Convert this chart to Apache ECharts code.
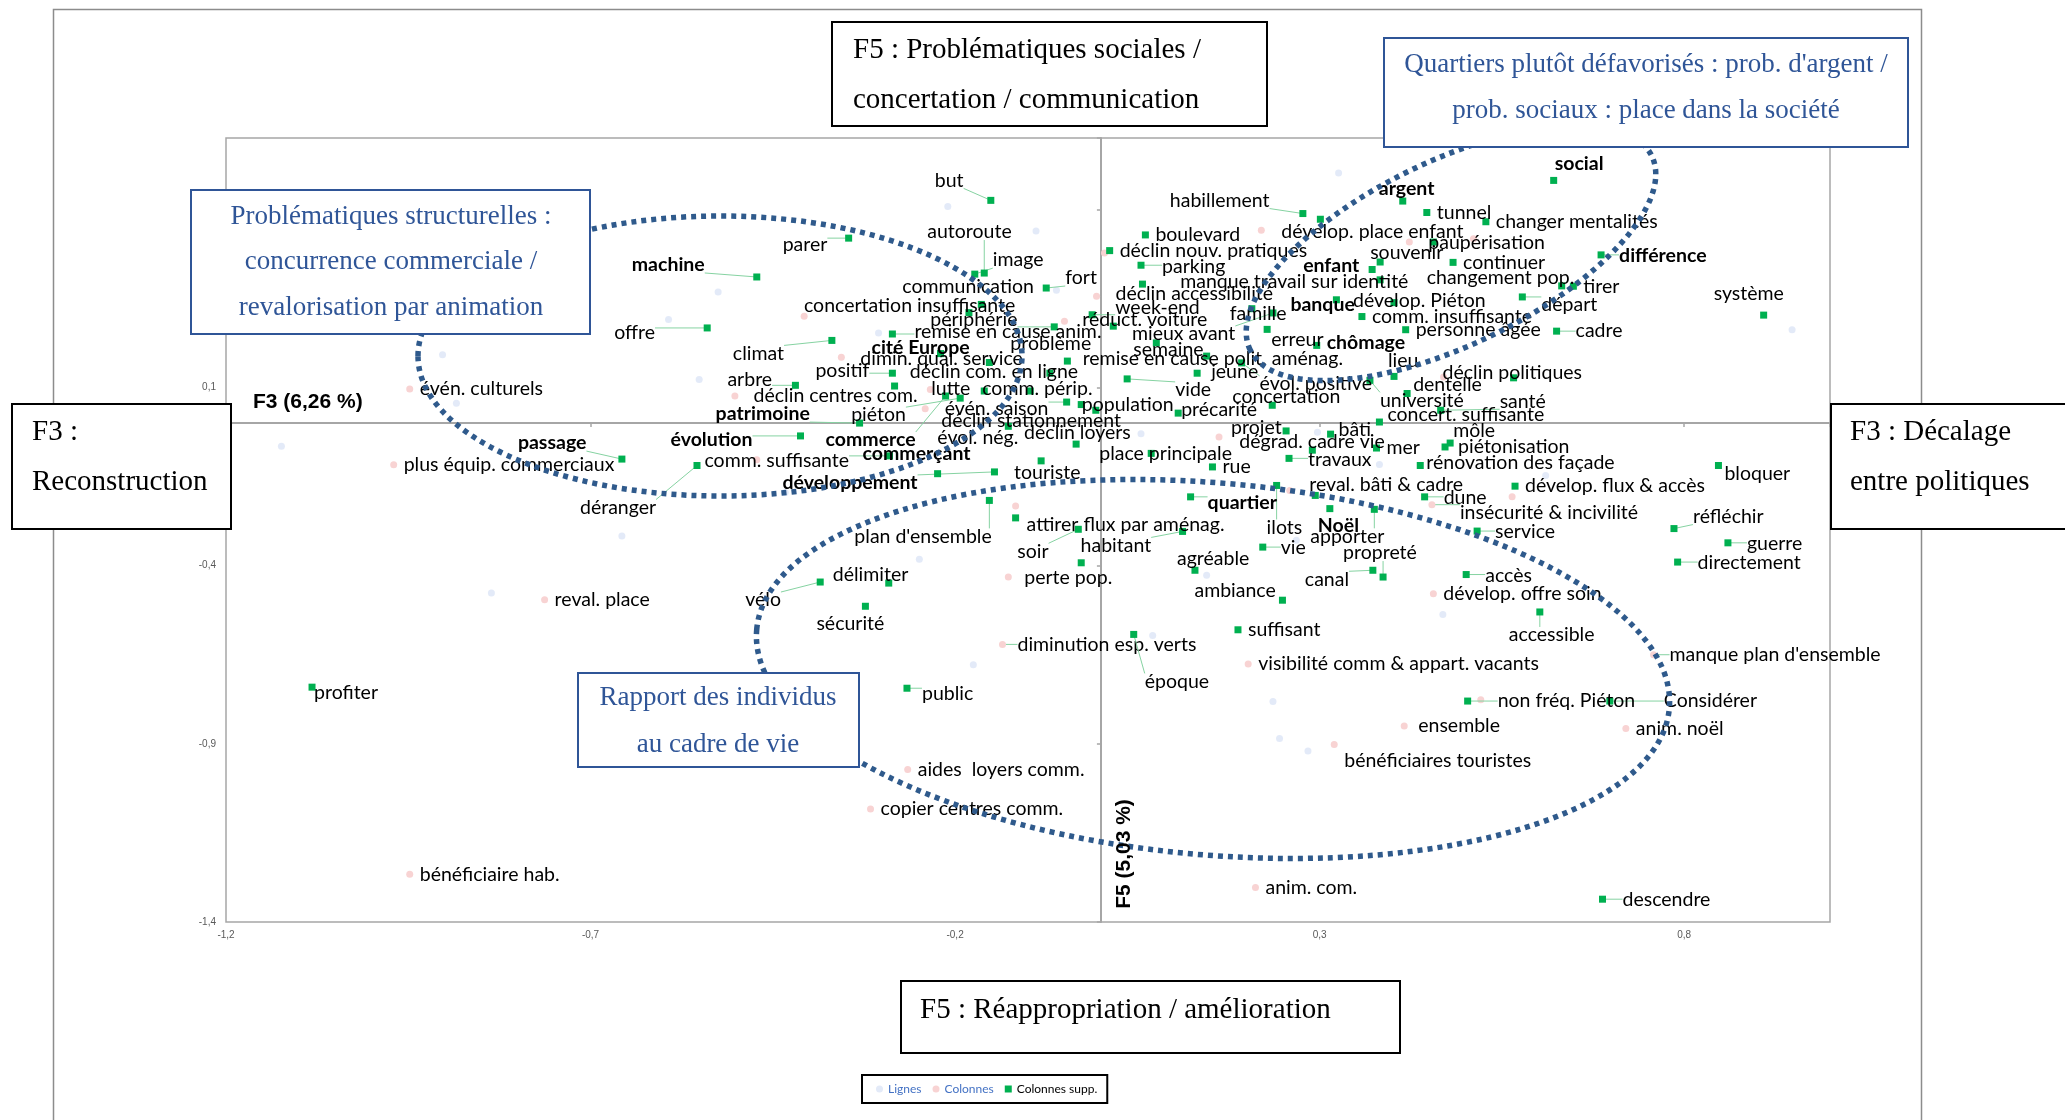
<!DOCTYPE html>
<html>
<head>
  <meta charset="UTF-8">
  <title>AFC - plan F3 / F5</title>
  <script src="https://cdn.jsdelivr.net/npm/echarts@6/dist/echarts.min.js"></script>
  <style>html, body { margin: 0; background: #fff; }</style>
</head>
<body>
  <div id="plan" style="width:2065px; height:1120px;"></div>
  <script>
    // coordonnées F3 (x) / F5 (y)
    var lignesPoints = [
      [-0.525, 0.368], [-0.593, 0.291], [-0.903, 0.192], [-0.884, 0.056], [-1.124, -0.065],
      [-0.551, 0.122], [-0.836, -0.477], [-0.657, -0.317], [-0.433, -0.195], [-0.249, -0.382],
      [0.284, -0.920], [-0.210, 0.608], [-0.089, 0.539], [-0.305, 0.253], [-0.061, 0.373],
      [0.326, 0.702], [0.948, 0.262], [0.055, -0.030], [0.297, -0.026], [0.382, -0.116],
      [0.145, -0.427], [0.268, -0.329], [0.071, -0.596], [0.610, -0.147], [0.469, -0.537],
      [-0.175, -0.678], [0.236, -0.781], [0.245, -0.885]
    ];

    var colonnesTerms = [
      [-0.948, 0.096, 'évén. culturels'],
      [-0.970, -0.117, 'plus équip. commerciaux'],
      [-0.763, -0.496, 'reval. place'],
      [-0.948, -1.266, 'bénéficiaire hab.'],
      [-0.135, -0.621, 'diminution esp. verts'],
      [-0.316, -1.083, 'copier centres comm.'],
      [-0.265, -0.972, 'aides  loyers comm.'],
      [0.202, -0.676, 'visibilité comm & appart. vacants'],
      [0.320, -0.902, 'bénéficiaires touristes'],
      [0.212, -1.303, 'anim. com.'],
      [0.720, -0.857, 'anim. noël'],
      [0.456, -0.479, 'dévelop. offre soin'],
      [0.454, -0.229, 'insécurité & incivilité'],
      [0.758, -0.650, "manque plan d'ensemble"],
      [0.416, -0.850, 'ensemble'],
      [0.521, -0.776, ''], [-0.127, -0.432, ''], [-0.502, 0.076, ''], [-0.472, -0.103, ''],
      [0.564, -0.207, ''], [-0.407, 0.300, ''], [-0.356, 0.185, ''], [-0.050, 0.286, ''],
      [-0.234, 0.094, ''], [0.220, 0.541, ''], [0.005, 0.477, ''], [-0.006, 0.356, ''],
      [0.423, 0.508, ''], [0.511, 0.517, ''], [0.470, 0.129, ''], [0.162, -0.039, ''],
      [0.259, -0.189, ''], [-0.117, -0.233, ''], [-0.241, 0.040, '']
    ];

    var suppTerms = [
      [-0.151, 0.625, 'but'], [-0.346, 0.519, 'parer'], [-0.472, 0.410, 'machine'],
      [-0.540, 0.267, 'offre'], [-0.160, 0.421, 'autoroute'], [-0.173, 0.418, 'image'],
      [-0.164, 0.333, 'communication'], [-0.075, 0.379, 'fort'],
      [-0.181, 0.310, 'concertation insuffisante'], [-0.064, 0.270, 'périphérie'],
      [-0.286, 0.250, 'remise en cause anim.'], [-0.220, 0.195, 'cité Europe'],
      [-0.369, 0.232, 'climat'], [-0.153, 0.170, 'dimin. qual. service'],
      [-0.046, 0.174, 'problème'], [-0.286, 0.140, 'positif'],
      [-0.070, 0.140, 'déclin com. en ligne'], [-0.419, 0.106, 'arbre'],
      [-0.283, 0.104, 'déclin centres com.'], [-0.160, 0.090, 'lutte'],
      [-0.097, 0.090, 'comm. périp.'], [-0.331, 0.000, 'patrimoine'],
      [-0.193, 0.070, 'piéton'], [-0.047, 0.059, 'évén. saison'],
      [-0.027, 0.052, 'déclin stationnement'], [-0.127, -0.009, 'évol. nég.'],
      [-0.034, -0.059, 'déclin loyers'], [-0.412, -0.036, 'évolution'],
      [-0.213, 0.076, 'commerce'], [-0.290, -0.092, 'comm. suffisante'],
      [-0.554, -0.119, 'déranger'], [-0.224, -0.142, 'commerçant'],
      [-0.146, -0.137, 'développement'], [-0.082, -0.106, 'touriste'],
      [-0.657, -0.101, 'passage'], [-0.153, -0.217, "plan d'ensemble"],
      [-0.117, -0.266, 'attirer flux par aménag.'], [-0.031, -0.298, 'soir'],
      [0.112, -0.304, 'habitant'], [-0.291, -0.449, 'délimiter'],
      [-0.385, -0.446, 'vélo'], [-0.323, -0.514, 'sécurité'],
      [-0.027, -0.392, 'perte pop.'], [-0.266, -0.744, 'public'],
      [-1.082, -0.741, 'profiter'], [0.045, -0.593, 'époque'],
      [0.277, 0.588, 'habillement'], [0.301, 0.572, 'dévelop. place enfant'],
      [0.414, 0.623, 'argent'], [0.621, 0.681, 'social'], [0.447, 0.591, 'tunnel'],
      [0.528, 0.565, 'changer mentalités'], [0.456, 0.508, 'paupérisation'],
      [0.383, 0.452, 'souvenir'], [0.372, 0.431, 'enfant'], [0.483, 0.451, 'continuer'],
      [0.686, 0.472, 'différence'], [0.632, 0.385, 'changement pop.'],
      [0.648, 0.384, 'tirer'], [0.909, 0.303, 'système'],
      [0.402, 0.338, 'dévelop. Piéton'], [0.578, 0.354, 'départ'],
      [0.358, 0.299, 'comm. insuffisante'], [0.418, 0.262, 'personne âgée'],
      [0.625, 0.258, 'cadre'], [0.296, 0.218, 'chômage'], [0.323, 0.346, 'banque'],
      [0.383, 0.402, 'manque travail sur identité'], [0.061, 0.528, 'boulevard'],
      [0.012, 0.484, 'déclin nouv. pratiques'], [0.055, 0.443, 'parking'],
      [0.057, 0.390, 'déclin accessibilité'], [-0.012, 0.304, 'week-end'],
      [0.017, 0.272, 'réduct. voiture'], [0.207, 0.321, 'famille'],
      [0.236, 0.309, 'mieux avant'], [0.228, 0.263, 'erreur'], [0.076, 0.225, 'semaine'],
      [0.145, 0.188, 'remise en cause polit. aménag.'], [0.402, 0.131, 'lieu'],
      [0.132, 0.140, 'jeune'], [0.193, 0.169, 'évol. positive'], [0.036, 0.124, 'vide'],
      [0.235, 0.050, 'concertation'], [0.566, 0.127, 'déclin politiques'],
      [0.420, 0.083, 'dentelle'], [0.369, 0.120, 'université'], [0.466, 0.036, 'santé'],
      [0.382, 0.003, 'concert. suffisante'], [0.315, -0.031, 'bâti'],
      [0.479, -0.056, 'môle'], [0.472, -0.067, 'piétonisation'],
      [0.438, -0.119, 'rénovation des façade'], [0.378, -0.070, 'mer'],
      [0.254, -0.022, 'projet'], [0.290, -0.076, 'dégrad. cadre vie'],
      [0.258, -0.099, 'travaux'], [-0.007, 0.036, 'population'],
      [0.106, 0.028, 'précarité'], [0.069, -0.085, 'place principale'],
      [0.153, -0.123, 'rue'], [0.294, -0.203, 'reval. bâti & cadre'],
      [0.123, -0.207, 'quartier'], [0.314, -0.240, 'Noël'], [0.241, -0.175, 'ilots'],
      [0.375, -0.242, 'apporter'], [0.222, -0.348, 'vie'], [0.387, -0.432, 'propreté'],
      [0.373, -0.413, 'canal'], [0.129, -0.413, 'agréable'], [0.249, -0.497, 'ambiance'],
      [0.188, -0.580, 'suffisant'], [0.444, -0.207, 'dune'], [0.516, -0.303, 'service'],
      [0.568, -0.177, 'dévelop. flux & accès'], [0.847, -0.119, 'bloquer'],
      [0.786, -0.296, 'réfléchir'], [0.860, -0.336, 'guerre'],
      [0.791, -0.390, 'directement'], [0.501, -0.425, 'accès'],
      [0.602, -0.530, 'accessible'], [0.503, -0.780, 'non fréq. Piéton'],
      [0.698, -0.780, 'Considérer'], [0.688, -1.336, 'descendre']
    ];

    var boldTerms = ['argent', 'social', 'différence', 'enfant', 'banque', 'chômage', 'cité Europe',
      'patrimoine', 'évolution', 'commerce', 'commerçant', 'développement', 'passage', 'machine',
      'quartier', 'Noël'];

    // décalage de chaque étiquette par rapport à son point (px), comme déplacé à la main
    var labelShift = {
      'but': [-56, -20], 'parer': [-66, 7], 'machine': [-125, -12], 'offre': [-93, 5],
      'autoroute': [-57, -41], 'image': [18, -14], 'communication': [-79, -18], 'fort': [19, -10],
      'concertation insuffisante': [-165, -7], 'périphérie': [-124, -7],
      'remise en cause anim.': [22, -2], 'cité Europe': [-69, -6], 'climat': [-99, 13],
      'dimin. qual. service': [-129, -4], 'problème': [-57, -17], 'positif': [-77, -2],
      'déclin com. en ligne': [-140, -1], 'arbre': [-68, -6], 'déclin centres com.': [-141, 10],
      'lutte': [-53, -2], 'comm. périp.': [-48, -2], 'patrimoine': [-144, -9], 'piéton': [-109, 17],
      'évén. saison': [-122, 7], 'déclin stationnement': [-140, 16], 'évol. nég.': [-71, 11],
      'déclin loyers': [-52, -11], 'évolution': [-130, 4], 'commerce': [-120, 44],
      'comm. suffisante': [-185, 5], 'déranger': [-117, 42], 'commerçant': [-75, -20],
      'développement': [-212, 11], 'touriste': [-27, 12], 'passage': [-104, -16],
      "plan d'ensemble": [-135, 36], 'attirer flux par aménag.': [11, 7], 'soir': [-61, 22],
      'habitant': [-102, 14], 'délimiter': [-56, -8], 'vélo': [-75, 18], 'sécurité': [-49, 17],
      'perte pop.': [-57, 15], 'public': [15, 5], 'profiter': [2, 6], 'époque': [11, 47],
      'habillement': [-133, -13], 'dévelop. place enfant': [-39, 12], 'argent': [-24, -12],
      'social': [1, -17], 'paupérisation': [-5, 1], 'souvenir': [-10, -9], 'enfant': [-69, -4],
      'différence': [18, 1], 'changement pop.': [-135, -8], 'système': [-50, -21],
      'dévelop. Piéton': [-41, -2], 'départ': [19, 8], 'cadre': [19, 0], 'chômage': [10, -3],
      'banque': [-46, 5], 'manque travail sur identité': [-200, 2], 'parking': [21, 1],
      'déclin accessibilité': [-27, 10], 'week-end': [23, -7], 'réduct. voiture': [-31, -6],
      'famille': [-22, 5], 'mieux avant': [-141, 21], 'erreur': [4, 10], 'semaine': [-23, 7],
      'remise en cause polit. aménag.': [-124, 3], 'lieu': [-6, -16], 'jeune': [14, -1],
      'évol. positive': [18, 21], 'vide': [48, 11], 'concertation': [-40, -9],
      'déclin politiques': [-71, -5], 'dentelle': [6, -9], 'université': [10, 20],
      'santé': [59, -9], 'concert. suffisante': [8, -7], 'bâti': [8, -4], 'môle': [3, -12],
      'piétonisation': [13, 0], 'rénovation des façade': [6, -3], 'projet': [-55, -3],
      'dégrad. cadre vie': [-73, -8], 'travaux': [19, 1], 'population': [-14, -6],
      'précarité': [3, -3], 'place principale': [-52, 0], 'reval. bâti & cadre': [-6, -11],
      'quartier': [17, 6], 'Noël': [-12, 17], 'ilots': [-10, 42], 'apporter': [-64, 27],
      'vie': [18, 1], 'propreté': [-40, -24], 'canal': [-68, 9], 'agréable': [-18, -12],
      'ambiance': [-88, -9], 'dune': [19, 1], 'service': [18, 1], 'bloquer': [6, 8],
      'réfléchir': [19, -12], 'guerre': [19, 1], 'directement': [20, 1], 'accès': [19, 1],
      'accessible': [-31, 23], 'non fréq. Piéton': [30, 0], 'Considérer': [54, 0],
      'descendre': [20, 1], 'bénéficiaires touristes': [10, 16], 'insécurité & incivilité': [28, 8],
      'diminution esp. verts': [15, 0], 'ensemble': [14, 0], "manque plan d'ensemble": [16, 0]
    };

    var GREEN = '#00b050', PINK = '#f8d3d3', BLUE = '#dce5f6', DOTS = '#2f5a8c', LEADER = '#86d3a2';
    var BOXBLUE = '#2f5597', SERIF = '"Liberation Serif", "DejaVu Serif", serif';
    var LABEL_SIZE = 19.5;

    var measureCtx = document.createElement('canvas').getContext('2d');
    function labelFont(name) {
      return (boldTerms.indexOf(name) >= 0 ? 'bold ' : '') + LABEL_SIZE + 'px Lato';
    }

    function termRenderer(terms, marker) {
      return function (params, api) {
        var name = terms[params.dataIndex][2];
        var p = api.coord([api.value(0), api.value(1)]);
        var children = [];
        if (marker === 'square') {
          children.push({type: 'rect', shape: {x: p[0] - 3.5, y: p[1] - 3.5, width: 7, height: 7},
            style: {fill: GREEN}, z2: 2});
        } else {
          children.push({type: 'circle', shape: {cx: p[0], cy: p[1], r: 3.5}, style: {fill: PINK}, z2: 2});
        }
        if (name) {
          var off = labelShift[name] || [10, 0];
          var font = labelFont(name);
          measureCtx.font = font;
          var w = measureCtx.measureText(name).width, h = 16;
          var lx = p[0] + off[0], ly = p[1] + off[1];
          var nx = Math.max(lx, Math.min(p[0], lx + w));
          var ny = Math.max(ly - h / 2, Math.min(p[1], ly + h / 2));
          if (Math.hypot(nx - p[0], ny - p[1]) > 14) {
            children.push({type: 'line', shape: {x1: p[0], y1: p[1], x2: nx, y2: ny},
              style: {stroke: LEADER, lineWidth: 1}, z2: 1});
          }
          children.push({type: 'text', x: lx, y: ly, z2: 3,
            style: {text: name, font: font, fill: '#000', align: 'left', verticalAlign: 'middle'}});
        }
        return {type: 'group', children: children};
      };
    }

    function comma(v) {
      return String(Math.round(v * 10) / 10).replace('.', ',');
    }

    // cadre de commentaire : fond blanc pour masquer ce qui passe dessous
    function textBox(x, y, w, h, lines, color, size, align, textX, lineYs) {
      var children = [{type: 'rect', z: 100, shape: {x: 0, y: 0, width: w, height: h},
        style: {fill: '#fff', stroke: color, lineWidth: 2}}];
      lines.forEach(function (t, i) {
        children.push({type: 'text', z: 101, x: textX, y: lineYs[i],
          style: {text: t, fill: color === '#000' ? '#000' : BOXBLUE, font: size + 'px ' + SERIF,
            align: align, verticalAlign: 'middle'}});
      });
      return {type: 'group', x: x, y: y, z: 100, silent: true, children: children};
    }

    var chart = echarts.init(document.getElementById('plan'), null, {renderer: 'canvas'});

    chart.setOption({
      animation: false,
      backgroundColor: '#fff',
      grid: {left: 226, right: 235, top: 138, bottom: 198, show: true,
        borderColor: '#a6a6a6', borderWidth: 1.5},
      xAxis: [
        {type: 'value', min: -1.2, max: 1.0, interval: 0.5,
          axisLine: {show: false, onZero: false}, axisTick: {show: false}, splitLine: {show: false},
          axisLabel: {showMaxLabel: false, fontSize: 10, color: '#595959', margin: 8,
            fontFamily: 'Liberation Sans', formatter: comma}},
        {type: 'value', min: -1.2, max: 1.0, interval: 0.5, position: 'bottom',
          axisLine: {onZero: true, onZeroAxisIndex: 0, lineStyle: {color: '#a6a6a6', width: 2}},
          axisTick: {length: 4, lineStyle: {color: '#a6a6a6', width: 1.5}},
          axisLabel: {show: false}, splitLine: {show: false}}
      ],
      yAxis: [
        {type: 'value', min: -1.4, max: 0.8, interval: 0.5,
          axisLine: {show: false, onZero: false}, axisTick: {show: false}, splitLine: {show: false},
          axisLabel: {showMaxLabel: false, fontSize: 10, color: '#595959', margin: 10,
            fontFamily: 'Liberation Sans', formatter: comma}},
        {type: 'value', min: -1.4, max: 0.8, interval: 0.5, position: 'left',
          axisLine: {onZero: true, onZeroAxisIndex: 0, lineStyle: {color: '#a6a6a6', width: 2}},
          axisTick: {length: 4, lineStyle: {color: '#a6a6a6', width: 1.5}},
          axisLabel: {show: false}, splitLine: {show: false}}
      ],
      legend: {
        left: 862, top: 1075, padding: [8, 10, 8, 14], borderColor: '#000', borderWidth: 2,
        itemWidth: 7, itemHeight: 7, itemGap: 11, selectedMode: false,
        textStyle: {fontFamily: 'Lato', fontSize: 12, color: '#4472c4'},
        data: [
          {name: 'Lignes', icon: 'circle'},
          {name: 'Colonnes', icon: 'circle'},
          {name: 'Colonnes supp.', icon: 'rect', textStyle: {color: '#000'}}
        ]
      },
      series: [
        {name: 'Lignes', type: 'scatter', xAxisIndex: 0, yAxisIndex: 0, symbol: 'circle',
          symbolSize: 7, itemStyle: {color: BLUE}, data: lignesPoints, z: 3, silent: true},
        {name: 'Colonnes', type: 'custom', xAxisIndex: 0, yAxisIndex: 0, clip: false, silent: true,
          itemStyle: {color: PINK}, encode: {x: 0, y: 1}, z: 4,
          data: colonnesTerms.map(function (t) { return [t[0], t[1]]; }),
          renderItem: termRenderer(colonnesTerms, 'circle')},
        {name: 'Colonnes supp.', type: 'custom', xAxisIndex: 0, yAxisIndex: 0, clip: false, silent: true,
          itemStyle: {color: GREEN}, encode: {x: 0, y: 1}, z: 5,
          data: suppTerms.map(function (t) { return [t[0], t[1]]; }),
          renderItem: termRenderer(suppTerms, 'square')}
      ],
      graphic: [
        {type: 'rect', left: 51, top: 7, z: -1, silent: true,
          shape: {width: 1868, height: 1200}, style: {fill: 'none', stroke: '#8c8c8c', lineWidth: 1.5}},
        {type: 'text', x: 253, y: 402, z: 60, silent: true,
          style: {text: 'F3 (6,26 %)', font: 'bold 21px "Liberation Sans"', fill: '#000',
            align: 'left', verticalAlign: 'middle'}},
        {type: 'text', x: 1124, y: 854, rotation: Math.PI / 2, z: 60, silent: true,
          style: {text: 'F5 (5,03 %)', font: 'bold 21px "Liberation Sans"', fill: '#000',
            align: 'center', verticalAlign: 'middle'}},
        {type: 'ellipse', x: 1451, y: 253, rotation: 0.450, z: 50, silent: true,
          shape: {cx: 0, cy: 0, rx: 223, ry: 92},
          style: {fill: 'none', stroke: DOTS, lineWidth: 5.5, lineDash: [5, 5]}},
        {type: 'ellipse', x: 720, y: 356, z: 50, silent: true,
          shape: {cx: 0, cy: 0, rx: 302, ry: 140},
          style: {fill: 'none', stroke: DOTS, lineWidth: 5.5, lineDash: [5, 5]}},
        {type: 'ellipse', x: 1213, y: 669, rotation: -0.086, z: 50, silent: true,
          shape: {cx: 0, cy: 0, rx: 458, ry: 186},
          style: {fill: 'none', stroke: DOTS, lineWidth: 5.5, lineDash: [5, 5]}},
        textBox(832, 22, 435, 104, ['F5 : Problématiques sociales /', 'concertation / communication'],
          '#000', 29, 'left', 21, [28, 78]),
        textBox(1384, 38, 524, 109, ["Quartiers plutôt défavorisés : prob. d'argent /",
          'prob. sociaux : place dans la société'], BOXBLUE, 27, 'center', 262, [27, 73]),
        textBox(191, 190, 399, 144, ['Problématiques structurelles :', 'concurrence commerciale /',
          'revalorisation par animation'], BOXBLUE, 27, 'center', 200, [27, 72, 118]),
        textBox(12, 404, 219, 125, ['F3 :', 'Reconstruction'], '#000', 29, 'left', 20, [28, 78]),
        textBox(1831, 404, 260, 125, ['F3 : Décalage', 'entre politiques'], '#000', 29, 'left', 19, [28, 78]),
        textBox(578, 673, 281, 94, ['Rapport des individus', 'au cadre de vie'], BOXBLUE, 27, 'center', 140, [25, 72]),
        textBox(901, 981, 499, 72, ['F5 : Réappropriation / amélioration'], '#000', 29, 'left', 19, [29])
      ]
    });
  </script>
</body>
</html>
